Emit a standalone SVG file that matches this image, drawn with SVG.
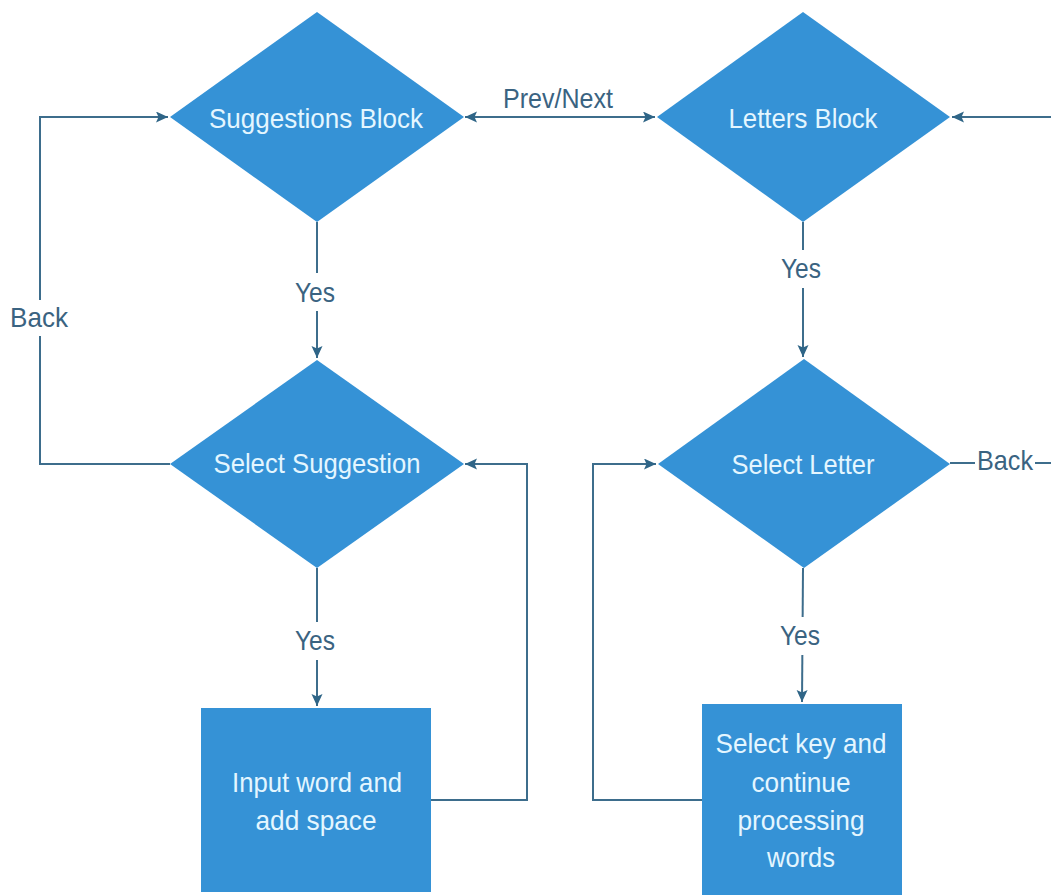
<svg xmlns="http://www.w3.org/2000/svg" width="1051" height="895" viewBox="0 0 1051 895">
  <style>
    .shape { fill: #3592d6; }
    .node-text { font-family: "Liberation Sans", Arial, sans-serif; font-size: 28px; fill: #e4f6ff; text-anchor: middle; }
    .edge { fill: none; stroke: #3d6d8c; stroke-width: 2; }
    .edge-label { font-family: "Liberation Sans", Arial, sans-serif; font-size: 28px; fill: #3a6381; text-anchor: middle; }
    .label-bg { fill: #ffffff; }
  </style>
  <defs>
    <marker id="arrow" markerUnits="userSpaceOnUse" markerWidth="13" markerHeight="12" refX="12" refY="5.5" orient="auto-start-reverse">
      <path d="M0,0 L12,5.5 L0,11 L2.5,5.5 z" fill="#2f6587"/>
    </marker>
  </defs>

  <rect width="1051" height="895" fill="#ffffff"/>

  <!-- connectors -->
  <g id="connectors">
    <!-- Select Suggestion back to Suggestions Block -->
    <path class="edge" d="M170,464 H40 V117 H168" marker-end="url(#arrow)"/>
    <!-- Suggestions Block to Select Suggestion -->
    <path class="edge" d="M317,222 V358" marker-end="url(#arrow)"/>
    <!-- Prev/Next between the two blocks -->
    <path class="edge" d="M465,117 H655" marker-start="url(#arrow)" marker-end="url(#arrow)"/>
    <!-- Select Letter back to Letters Block (route continues past the right edge) -->
    <path class="edge" d="M1051,117 H952" marker-end="url(#arrow)"/>
    <path class="edge" d="M950,463 H1051"/>
    <!-- Letters Block to Select Letter -->
    <path class="edge" d="M803,222 V357" marker-end="url(#arrow)"/>
    <!-- Select Suggestion to Input word -->
    <path class="edge" d="M317,568 V706" marker-end="url(#arrow)"/>
    <!-- Input word loops back to Select Suggestion -->
    <path class="edge" d="M431,800 H527 V464 H465" marker-end="url(#arrow)"/>
    <!-- Select Letter to Select key -->
    <path class="edge" d="M803,568 L802,702" marker-end="url(#arrow)"/>
    <!-- Select key loops back to Select Letter -->
    <path class="edge" d="M702,800 H593 V464 H656" marker-end="url(#arrow)"/>

    <!-- labels -->
    <text class="edge-label" x="558" y="108" textLength="110" lengthAdjust="spacingAndGlyphs">Prev/Next</text>
    <rect class="label-bg" x="6" y="300" width="66" height="36"/>
    <text class="edge-label" x="39" y="327" textLength="58" lengthAdjust="spacingAndGlyphs">Back</text>
    <rect class="label-bg" x="290" y="273" width="54" height="38"/>
    <text class="edge-label" x="315" y="302" textLength="40" lengthAdjust="spacingAndGlyphs">Yes</text>
    <rect class="label-bg" x="776" y="250" width="54" height="38"/>
    <text class="edge-label" x="801" y="278" textLength="40" lengthAdjust="spacingAndGlyphs">Yes</text>
    <rect class="label-bg" x="288" y="622" width="54" height="38"/>
    <text class="edge-label" x="315" y="650" textLength="40" lengthAdjust="spacingAndGlyphs">Yes</text>
    <rect class="label-bg" x="774" y="617" width="54" height="38"/>
    <text class="edge-label" x="800" y="645" textLength="40" lengthAdjust="spacingAndGlyphs">Yes</text>
    <rect class="label-bg" x="975" y="444" width="60" height="34"/>
    <text class="edge-label" x="1005" y="470" textLength="56" lengthAdjust="spacingAndGlyphs">Back</text>
  </g>

  <!-- nodes -->
  <g id="suggestions-block">
    <polygon class="shape" points="317,12 464,117 317,222 170,117"/>
    <text class="node-text" x="316" y="128" textLength="214" lengthAdjust="spacingAndGlyphs">Suggestions Block</text>
  </g>
  <g id="letters-block">
    <polygon class="shape" points="803,12 950,117 803,222 657,117"/>
    <text class="node-text" x="803" y="128" textLength="149" lengthAdjust="spacingAndGlyphs">Letters Block</text>
  </g>
  <g id="select-suggestion">
    <polygon class="shape" points="317,360 464,464 317,568 170,464"/>
    <text class="node-text" x="317" y="473" textLength="207" lengthAdjust="spacingAndGlyphs">Select Suggestion</text>
  </g>
  <g id="select-letter">
    <polygon class="shape" points="804,359 950,464 804,568 658,464"/>
    <text class="node-text" x="803" y="474" textLength="143" lengthAdjust="spacingAndGlyphs">Select Letter</text>
  </g>
  <g id="input-word">
    <rect class="shape" x="201" y="708" width="230" height="184"/>
    <text class="node-text" x="317" y="792" textLength="170" lengthAdjust="spacingAndGlyphs">Input word and</text>
    <text class="node-text" x="316" y="830" textLength="121" lengthAdjust="spacingAndGlyphs">add space</text>
  </g>
  <g id="select-key">
    <rect class="shape" x="702" y="704" width="200" height="195"/>
    <text class="node-text" x="801" y="753" textLength="171" lengthAdjust="spacingAndGlyphs">Select key and</text>
    <text class="node-text" x="801" y="792" textLength="99" lengthAdjust="spacingAndGlyphs">continue</text>
    <text class="node-text" x="801" y="830" textLength="127" lengthAdjust="spacingAndGlyphs">processing</text>
    <text class="node-text" x="801" y="867" textLength="68" lengthAdjust="spacingAndGlyphs">words</text>
  </g>
</svg>
